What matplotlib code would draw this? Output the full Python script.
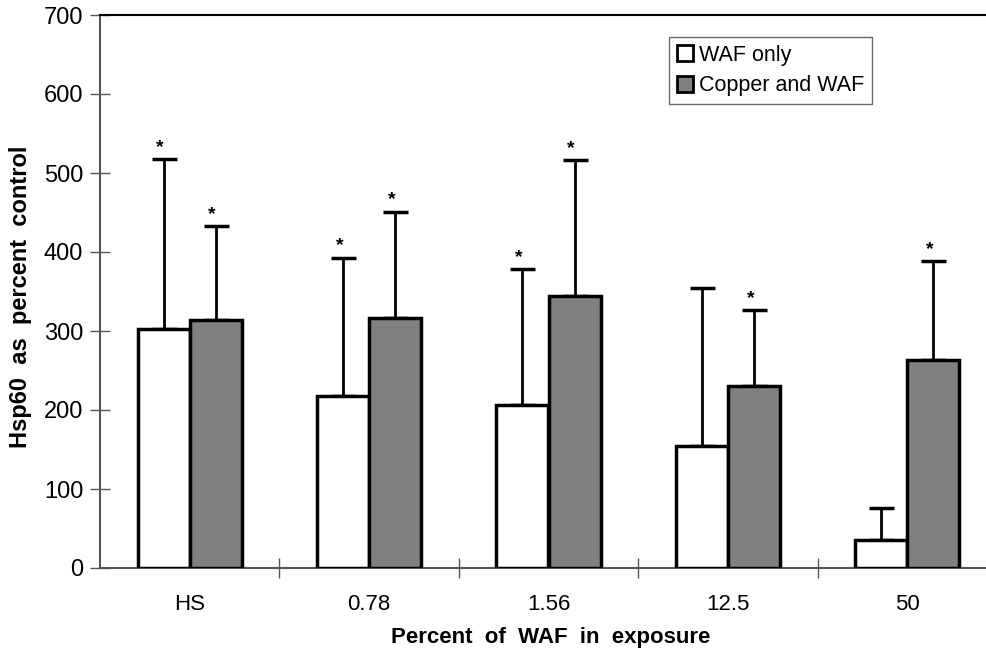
import numpy as np
from matplotlib import pyplot as plt
from matplotlib.ticker import FixedLocator

# Datos
categorias = ['HS', '0.78', '1.56', '12.5', '50']
waf_solo = [302, 218, 206, 154, 35]
waf_solo_err = [216, 175, 172, 201, 41]
cobre_waf = [314, 317, 344, 230, 263]
cobre_waf_err = [119, 134, 172, 96, 125]
sig_waf = [True, True, True, False, False]
sig_cobre = [True, True, True, True, True]

fuente = ['Liberation Sans', 'DejaVu Sans']

fig = plt.figure(figsize=(9.87, 6.53), dpi=100)
ax = fig.add_axes([100 / 987, 85 / 653, 897 / 987, 553 / 653])

x = np.arange(len(categorias))
ancho = 0.29

for valores, errores, sig, color, etiqueta, off in [
        (waf_solo, waf_solo_err, sig_waf, 'white', 'WAF only', -ancho / 2),
        (cobre_waf, cobre_waf_err, sig_cobre, '#808080', 'Copper and WAF', ancho / 2)]:
    ax.bar(x + off, valores, width=ancho, color=color, edgecolor='black',
           linewidth=2.5, label=etiqueta, zorder=3)
    ax.errorbar(x + off, valores, yerr=[np.zeros(len(errores)), errores],
                fmt='none', ecolor='black', elinewidth=2, capsize=9,
                capthick=2.5, zorder=2)
    for xi, v, e, s in zip(x + off, valores, errores, sig):
        if s:
            ax.text(xi - 0.02, v + e + 4, '*', ha='center', va='bottom',
                    fontsize=14, fontweight='bold', family=fuente)

ax.set_xlim(-0.5, len(categorias) - 0.5)
ax.set_ylim(0, 700)
ax.set_yticks(range(0, 701, 100))
ax.set_yticklabels([str(v) for v in range(0, 701, 100)], family=fuente, fontsize=17)
ax.tick_params(axis='y', direction='inout', length=14, width=1, pad=5, color='#555555')

ax.set_xticks(x)
ax.set_xticklabels(categorias, family=fuente, fontsize=16)
ax.tick_params(axis='x', which='major', length=0, pad=19)
ax.xaxis.set_minor_locator(FixedLocator(np.arange(0.5, len(categorias) - 1, 1)))
ax.tick_params(axis='x', which='minor', direction='inout', length=14, width=1, color='#555555')

for lado in ['left', 'bottom']:
    ax.spines[lado].set_color('#555555')
    ax.spines[lado].set_linewidth(1.5)
ax.spines['top'].set_linewidth(1.5)
ax.spines['right'].set_visible(False)

# Titulos de los ejes colocados a mano
fig.text(551 / 987, 1 - 637 / 653, 'Percent  of  WAF  in  exposure', family=fuente,
         fontsize=16, fontweight='bold', ha='center', va='center')
fig.text(21 / 987, 1 - 297 / 653, 'Hsp60  as  percent  control', family=fuente,
         fontsize=17, fontweight='bold', ha='center', va='center', rotation=90)

leg = ax.legend(loc='upper left', bbox_to_anchor=(569 / 897, 1 - 22 / 553),
                prop={'family': fuente, 'size': 15.5}, frameon=True, fancybox=False,
                handlelength=0.75, handleheight=0.75, handletextpad=0.3,
                borderpad=0.35, labelspacing=0.45, borderaxespad=0)
leg.get_frame().set_edgecolor('#444444')
leg.get_frame().set_linewidth(1)
for h in leg.legend_handles:
    h.set_linewidth(2)

fig.savefig('out.png', dpi=100)
